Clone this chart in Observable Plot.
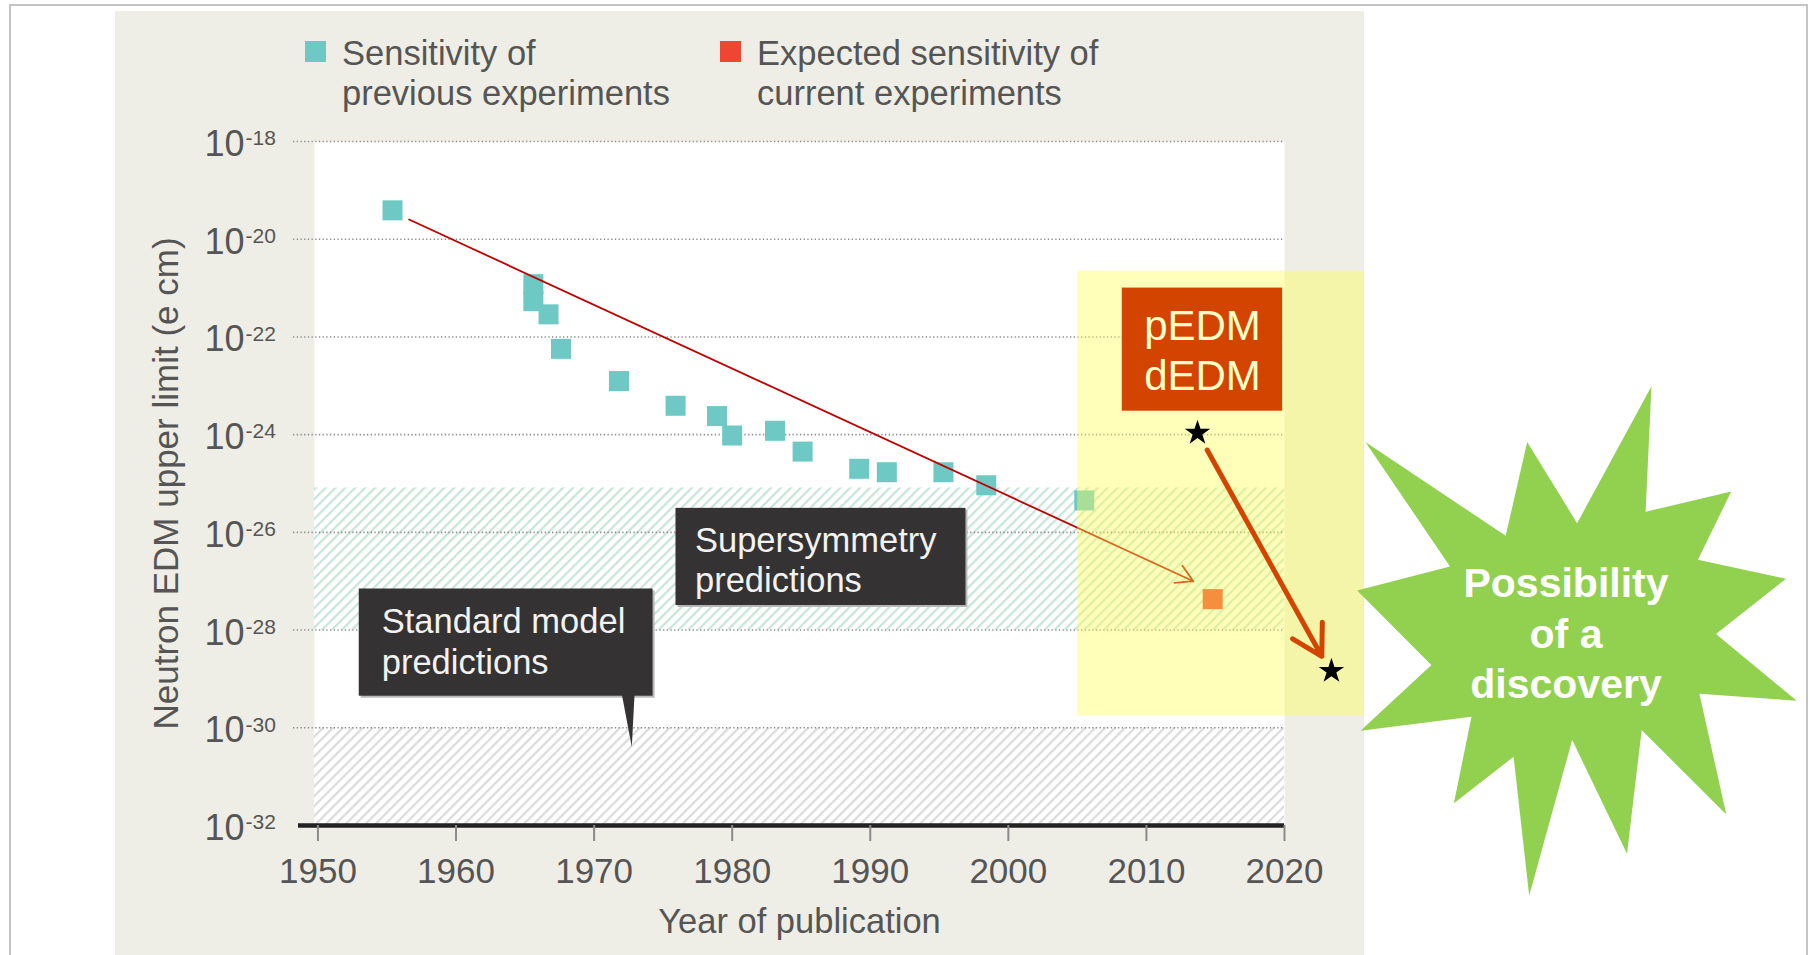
<!DOCTYPE html>
<html>
<head>
<meta charset="utf-8">
<script src="https://cdn.jsdelivr.net/npm/d3@7"></script>
<script src="https://cdn.jsdelivr.net/npm/@observablehq/plot@0.6"></script>
<style>
  html, body { margin: 0; padding: 0; background: #ffffff; }
  #chart { width: 1814px; height: 955px; overflow: hidden; }
  #chart svg { display: block; max-width: none; }
</style>
</head>
<body>
<div id="chart"></div>
<script>
// ---------------- data ----------------
const prevYears  = [1955.4, 1965.6, 1965.6, 1966.7, 1967.6, 1971.8, 1975.9, 1978.9, 1980.0, 1983.1, 1985.1, 1989.2, 1991.2, 1995.3, 1998.4, 2005.5];
const prevLimits = [3.9e-20, 1.2e-21, 5.4e-22, 2.9e-22, 5.7e-23, 1.25e-23, 3.9e-24, 2.4e-24, 9.6e-25, 1.2e-24, 4.5e-25, 2.0e-25, 1.7e-25, 1.7e-25, 9.2e-26, 4.5e-26];
const currYears  = [2014.8];
const currLimits = [4.3e-28];

const xTicks = [1950, 1960, 1970, 1980, 1990, 2000, 2010, 2020];
const yTickExponents = [-18, -20, -22, -24, -26, -28, -30, -32];

const legendLabels = ["Sensitivity of\nprevious experiments", "Expected sensitivity of\ncurrent experiments"];
const legendColors = ["#6ec9c5", "#ef4533"];

// prediction bands (upper, lower limits in e cm)
const bandSusy = [8.1e-26, 1e-28];
const bandSM   = [1e-30, 1e-32];

// trend arrow of previous experiments
const trendYears  = [1956.6, 2013.4];
const trendLimits = [2.53e-20, 1.0e-27];

// pEDM / dEDM projection
const futureStarYears  = [2013.7, 2023.4];
const futureStarLimits = [1.08e-24, 1.45e-29];
const futureArrowYears  = [2014.4, 2022.7];
const futureArrowLimits = [4.85e-25, 2.9e-29];

// annotation boxes (in data units)
const susyBoxYears = [1975.93, 1996.93], susyBoxLimits = [3.1e-26, 3.18e-28];
const smBoxYears   = [1952.99, 1974.27], smBoxLimits   = [6.93e-28, 4.43e-30];
const smTailYears  = [1972.0, 1972.93, 1972.73], smTailLimits = [5.0e-30, 5.0e-30, 4.05e-31];
const highlightYears = [2005.02, 2025.8], highlightLimits = [2.23e-21, 1.74e-30];
const edmBoxYears = [2008.25, 2019.87], edmBoxLimits = [1.0e-21, 3.02e-24];

// starburst outline (pixel space decoration)
const burstX = [1651.5,1645.6,1731.2,1697.9,1786.0,1716.0,1796.7,1699.4,1726.3,1641.7,1627.0,1572.2,1529.2,1513.6,1453.9,1471.5,1360.5,1431.4,1357.1,1450.0,1365.4,1505.7,1527.2,1577.1];
const burstY = [386.3,511.8,491.6,559.8,578.7,633.9,700.8,693.7,814.5,730.0,853.7,740.0,895.8,756.8,803.2,716.8,730.7,665.1,590.5,566.5,441.9,535.8,441.9,523.2];
const burstLines = ["Possibility", "of a", "discovery"];

// ---------------- build ----------------
const FONT = "'Liberation Sans', Arial, Helvetica, sans-serif";
const TXT = "#555555";

const prev = prevYears.map((year, i) => ({year, limit: prevLimits[i]}));
const curr = currYears.map((year, i) => ({year, limit: currLimits[i]}));
const stars = futureStarYears.map((year, i) => ({year, limit: futureStarLimits[i]}));
const tail = smTailYears.map((year, i) => ({year, limit: smTailLimits[i]}));

function background() {
  const g = d3.create("svg:g");
  g.append("rect").attr("x", 115).attr("y", 11).attr("width", 1249).attr("height", 970).attr("fill", "#efeee6");
  g.append("rect").attr("x", 10).attr("y", 5).attr("width", 1797).attr("height", 990)
    .attr("fill", "none").attr("stroke", "#c4c4c4").attr("stroke-width", 2);
  return g.node();
}

function legend() {
  const g = d3.create("svg:g").attr("font-family", FONT).attr("font-size", 34.5).attr("fill", TXT)
    .attr("text-anchor", "start");
  const xs = [305, 720];
  legendLabels.forEach((lab, i) => {
    g.append("rect").attr("x", xs[i]).attr("y", 41).attr("width", 21).attr("height", 21).attr("fill", legendColors[i]);
    const t = g.append("text").attr("x", xs[i] + 37).attr("y", 65).attr("text-anchor", "start");
    lab.split("\n").forEach((line, j) => {
      t.append("tspan").attr("x", xs[i] + 37).attr("dy", j === 0 ? 0 : 39.5).text(line);
    });
  });
  return g.node();
}

function burst() {
  const g = d3.create("svg:g");
  const pts = burstX.map((x, i) => [x, burstY[i]]);
  g.append("polygon").attr("points", pts.map(p => p.join(",")).join(" ")).attr("fill", "#92d050");
  const t = g.append("text").attr("font-family", FONT).attr("font-weight", "bold").attr("font-size", 41)
    .attr("fill", "#ffffff").attr("text-anchor", "middle");
  burstLines.forEach((line, j) => {
    t.append("tspan").attr("x", 1566).attr("y", 597 + j * 50.7).text(line);
  });
  return g.node();
}

const plot = Plot.plot({
  width: 1814,
  height: 955,
  marginLeft: 314,
  marginRight: 530,
  marginTop: 141,
  marginBottom: 130,
  style: {fontFamily: FONT, background: "transparent"},
  x: {domain: [1949.75, 2020]},
  y: {type: "log", domain: [1e-32, 1e-18], axis: null},
  marks: [
    background,
    Plot.frame({fill: "white", stroke: "none"}),
    Plot.rect([bandSusy], {y1: d => d[0], y2: d => d[1], fill: "url(#hatchGreen)"}),
    Plot.rect([bandSM], {y1: d => d[0], y2: d => d[1], fill: "url(#hatchGray)"}),
    Plot.ruleY(yTickExponents.filter(e => e > -32), {y: e => 10 ** e, stroke: "#8c8c8c", strokeWidth: 1.6, strokeDasharray: "1.3,2.4", insetLeft: -21}),
    Plot.ruleY([1e-32], {stroke: "#222222", strokeWidth: 4.5, insetLeft: -16}),
    Plot.axisX(xTicks, {anchor: "bottom", label: null, tickSize: 16, tickPadding: 17, tickFormat: d => String(d),
      fontSize: 35, fill: TXT, stroke: "#8a8a8a", strokeWidth: 2}),
    Plot.text(yTickExponents, {y: e => 10 ** e, frameAnchor: "left", text: () => "10", textAnchor: "end",
      dx: -70, dy: 3, fontSize: 36, fill: TXT}),
    Plot.text(yTickExponents, {y: e => 10 ** e, frameAnchor: "left", text: e => String(e), textAnchor: "start",
      dx: -69, dy: -3, fontSize: 21, fill: TXT}),
    Plot.text(["Year of publication"], {frameAnchor: "bottom", lineAnchor: "bottom", dy: 107, fontSize: 34.5, fill: TXT}),
    Plot.text(["Neutron EDM upper limit (e cm)"], {frameAnchor: "left", rotate: -90, textAnchor: "middle", lineAnchor: "middle",
      dx: -147.5, fontSize: 35, fill: TXT}),
    Plot.dot(prev, {x: "year", y: "limit", symbol: "square", r: 11.3, fill: legendColors[0]}),
    Plot.dot(curr, {x: "year", y: "limit", symbol: "square", r: 11.3, fill: legendColors[1]}),
    Plot.arrow([0], {x1: trendYears[0], y1: trendLimits[0], x2: trendYears[1], y2: trendLimits[1],
      stroke: "#c00000", strokeWidth: 1.8, headLength: 15.8}),
    // callout shadows & boxes
    Plot.rect([0], {x1: susyBoxYears[0], x2: susyBoxYears[1], y1: susyBoxLimits[0], y2: susyBoxLimits[1], fill: "#b8b8b8", dx: 2, dy: 2}),
    Plot.rect([0], {x1: susyBoxYears[0], x2: susyBoxYears[1], y1: susyBoxLimits[0], y2: susyBoxLimits[1], fill: "#343233"}),
    Plot.text(["Supersymmetry\npredictions"], {x: susyBoxYears[0], y: susyBoxLimits[0], textAnchor: "start", lineAnchor: "top",
      dx: 19, dy: 14.5, lineHeight: 1.17, fontSize: 34.5, fill: "#f2f2f2"}),
    Plot.rect([0], {x1: smBoxYears[0], x2: smBoxYears[1], y1: smBoxLimits[0], y2: smBoxLimits[1], fill: "#b8b8b8", dx: 2, dy: 2}),
    Plot.line(tail, {x: "year", y: "limit", curve: "linear-closed", fill: "#343233", stroke: "none"}),
    Plot.rect([0], {x1: smBoxYears[0], x2: smBoxYears[1], y1: smBoxLimits[0], y2: smBoxLimits[1], fill: "#343233"}),
    Plot.text(["Standard model\npredictions"], {x: smBoxYears[0], y: smBoxLimits[0], textAnchor: "start", lineAnchor: "top",
      dx: 22.5, dy: 15.5, lineHeight: 1.17, fontSize: 34.5, fill: "#f2f2f2"}),
    // highlight of current / future experiments
    Plot.rect([0], {x1: highlightYears[0], x2: highlightYears[1], y1: highlightLimits[0], y2: highlightLimits[1],
      fill: "#ffff50", fillOpacity: 0.4}),
    Plot.rect([0], {x1: edmBoxYears[0], x2: edmBoxYears[1], y1: edmBoxLimits[0], y2: edmBoxLimits[1], fill: "#d24400"}),
    Plot.text(["pEDM\ndEDM"], {x: (edmBoxYears[0] + edmBoxYears[1]) / 2, y: edmBoxLimits[0], lineAnchor: "top",
      dy: 16, lineHeight: 1.2, fontSize: 42, fill: "#ffffc8"}),
    Plot.arrow([0], {x1: futureArrowYears[0], y1: futureArrowLimits[0], x2: futureArrowYears[1], y2: futureArrowLimits[1],
      stroke: "#d24400", strokeWidth: 5, headLength: 10.2}),
    Plot.dot(stars, {x: "year", y: "limit", symbol: "star", r: 8, fill: "#000000", stroke: "none"}),
    legend,
    burst
  ]
});

const svgEl = plot.tagName.toLowerCase() === "svg" ? plot : plot.querySelector("svg");
d3.select(svgEl).insert("defs", ":first-child").html(`
  <pattern id="hatchGreen" patternUnits="userSpaceOnUse" width="7" height="7" patternTransform="rotate(45)">
    <rect width="7" height="7" fill="#ffffff"/>
    <line x1="1" y1="0" x2="1" y2="7" stroke="#c9e5d9" stroke-width="2.5"/>
  </pattern>
  <pattern id="hatchGray" patternUnits="userSpaceOnUse" width="7" height="7" patternTransform="rotate(45)">
    <rect width="7" height="7" fill="#ffffff"/>
    <line x1="1" y1="0" x2="1" y2="7" stroke="#dbdbdb" stroke-width="2.5"/>
  </pattern>`);
document.getElementById("chart").appendChild(plot);
</script>
</body>
</html>
